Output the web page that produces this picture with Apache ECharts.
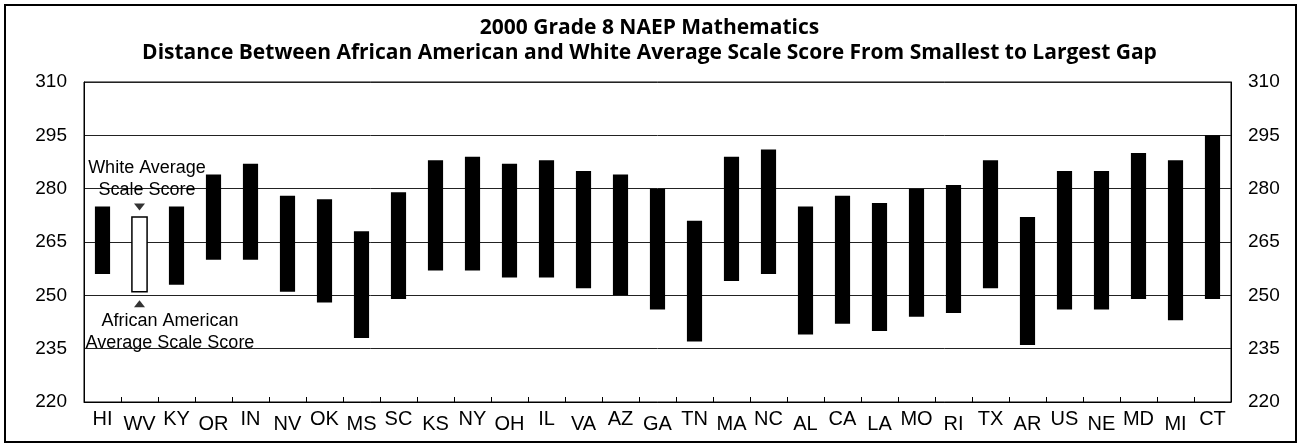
<!DOCTYPE html>
<html>
<head>
<meta charset="utf-8">
<script src="https://cdn.jsdelivr.net/npm/echarts@6/dist/echarts.min.js"></script>
<style>
html,body{margin:0;padding:0;background:#fff;}
#chart{width:1299px;height:445px;}
</style>
</head>
<body>
<div id="chart"></div>
<script>
// ---- data ----
const categories = ['HI','WV','KY','OR','IN','NV','OK','MS','SC','KS','NY','OH','IL','VA','AZ','GA','TN','MA','NC','AL','CA','LA','MO','RI','TX','AR','US','NE','MD','MI','CT'];
const whiteScores = [275,272,275,284,287,278,277,268,279,288,289,287,288,285,284,280,271,289,291,275,278,276,280,281,288,272,285,285,290,288,295];
const africanAmericanScores = [256,251,253,260,260,251,248,238,249,257,257,255,255,252,250,246,237,254,256,239,242,240,244,245,252,236,246,246,249,243,249];
const yTicks = [220,235,250,265,280,295,310];
const keyCategory = 'WV';

// labels that sit slightly lower in the scanned original (style only)
const lowered = ['WV','OR','NV','MS','KS','OH','VA','GA','MA','AL','LA','RI','AR','NE','MI'];

const FONT = '"Liberation Sans", Arial, sans-serif';
const TITLE_FONT = '"Open Sans", "Liberation Sans", sans-serif';
const chart = echarts.init(document.getElementById('chart'), null, {renderer:'canvas'});

const rangeData = categories.map((c, i) => [i, africanAmericanScores[i], whiteScores[i]]);
const keyIdx = categories.indexOf(keyCategory);

const yAxisCommon = {
  type: 'value', min: yTicks[0], max: yTicks[yTicks.length-1], interval: 15,
  axisLine: {show: true, lineStyle: {color: '#000', width: 1}},
  axisTick: {show: false},
  axisLabel: {color: '#000', fontSize: 19, fontFamily: FONT, margin: 17},
  splitLine: {show: false}
};

chart.setOption({
  animation: false,
  backgroundColor: '#fff',
  title: {
    text: '2000 Grade 8 NAEP Mathematics\nDistance Between African American and White Average Scale Score From Smallest to Largest Gap',
    left: 'center', top: 11,
    textStyle: {fontFamily: TITLE_FONT, fontWeight: 'bold', fontSize: 21, lineHeight: 25, color: '#000'}
  },
  grid: {left: 84, right: 68, top: 82, bottom: 43, show: true, borderColor: '#000', borderWidth: 1},
  xAxis: {
    type: 'category', data: categories, boundaryGap: true,
    axisLine: {show: true, lineStyle: {color: '#000', width: 1}},
    axisTick: {show: true, inside: true, length: 5, alignWithLabel: false, lineStyle: {color: '#000'}},
    axisLabel: {
      margin: 7, interval: 0, color: '#000', fontFamily: FONT,
      formatter: v => lowered.includes(v) ? '{lo|' + v + '}' : '{hi|' + v + '}',
      rich: {
        hi: {fontSize: 20, fontFamily: FONT, color: '#000', padding: [0,0,5,0]},
        lo: {fontSize: 20, fontFamily: FONT, color: '#000', padding: [5,0,0,0]}
      }
    },
    splitLine: {show: false}
  },
  yAxis: [
    Object.assign({}, yAxisCommon, {position: 'left',
      splitLine: {show: true, lineStyle: {color: '#222', width: 1}}}),
    Object.assign({}, yAxisCommon, {position: 'right'})
  ],
  series: [
    {
      type: 'custom',
      data: rangeData,
      encode: {x: 0, y: [1, 2]},
      z: 5,
      renderItem: function (params, api) {
        const idx = api.value(0);
        const top = api.coord([idx, api.value(2)]);
        const bot = api.coord([idx, api.value(1)]);
        const w = api.size([1, 0])[0] * 0.41;
        const isKey = idx === keyIdx;
        return {
          type: 'rect',
          shape: {x: top[0] - w / 2, y: top[1], width: w, height: bot[1] - top[1]},
          style: isKey ? {fill: '#fff', stroke: '#000', lineWidth: 1.5} : {fill: '#000'}
        };
      }
    },
    {
      type: 'scatter', z: 6,
      data: [[keyIdx, whiteScores[keyIdx]]],
      symbol: 'triangle', symbolRotate: 180, symbolSize: [11, 7], symbolOffset: [0, -10],
      itemStyle: {color: '#000'}, silent: true
    },
    {
      type: 'scatter', z: 6,
      data: [[keyIdx, africanAmericanScores[keyIdx]]],
      symbol: 'triangle', symbolSize: [11, 7], symbolOffset: [0, 12],
      itemStyle: {color: '#000'}, silent: true
    }
  ],
  graphic: [
    {type: 'rect', shape: {x: 5, y: 5, width: 1291, height: 437}, style: {fill: 'none', stroke: '#000', lineWidth: 2}, z: 100},
    {type: 'text', x: 147, y: 168, style: {text: 'White Average', fontFamily: FONT, fontSize: 18, fill: '#000', align: 'center', verticalAlign: 'middle'}, z: 100},
    {type: 'text', x: 147, y: 190, style: {text: 'Scale Score', fontFamily: FONT, fontSize: 18, fill: '#000', align: 'center', verticalAlign: 'middle'}, z: 100},
    {type: 'text', x: 170, y: 321, style: {text: 'African American', fontFamily: FONT, fontSize: 18, fill: '#000', align: 'center', verticalAlign: 'middle'}, z: 100},
    {type: 'text', x: 170, y: 343, style: {text: 'Average Scale Score', fontFamily: FONT, fontSize: 18, fill: '#000', align: 'center', verticalAlign: 'middle'}, z: 100}
  ]
});
</script>
</body>
</html>
